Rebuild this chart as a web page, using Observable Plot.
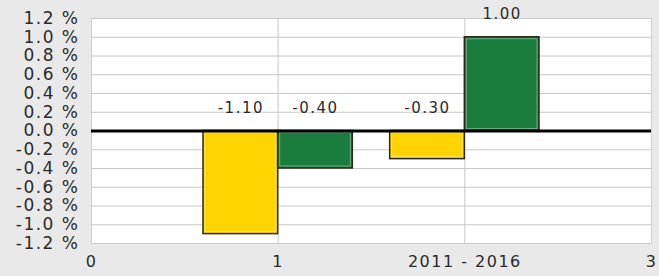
<!DOCTYPE html>
<html><head><meta charset="utf-8">
<script src="https://cdn.jsdelivr.net/npm/d3@7"></script>
<script src="https://cdn.jsdelivr.net/npm/@observablehq/plot@0.6"></script>
<style>
html,body{margin:0;padding:0;background:#e9e9e9;}
</style>
</head><body>
<div id="chart"></div>
<script>
const groupPositions = [1, 2];
const seriesNames = ["A", "B"];
const seriesColors = ["#fdd300", "#1b7d3d"];
const seriesValues = [[-1.10, -0.40], [-0.30, 1.00]]; // [group][series]
const xTickValues = [0, 1, 2, 3];
const xTickLabels = ["0", "1", "2011 - 2016", "3"];
const yTicks = [-1.2, -1.0, -0.8, -0.6, -0.4, -0.2, 0, 0.2, 0.4, 0.6, 0.8, 1.0, 1.2];

const barWidth = 0.4;
const rows = [];
groupPositions.forEach((g, gi) => {
  seriesNames.forEach((s, si) => {
    const x1 = g - barWidth + si * barWidth;
    rows.push({x1, x2: x1 + barWidth, xm: x1 + barWidth / 2, v: seriesValues[gi][si], s, color: seriesColors[si]});
  });
});

const chart = Plot.plot({
  width: 659, height: 276,
  marginLeft: 91, marginRight: 8, marginTop: 18, marginBottom: 33,
  style: {background: "#e9e9e9", fontFamily: "DejaVu Sans, Verdana, sans-serif", fontSize: "16px", letterSpacing: "1.5px", color: "#2b2b2b"},
  x: {domain: [0, 3], ticks: xTickValues, tickFormat: (d) => xTickLabels[xTickValues.indexOf(d)], tickSize: 0, tickPadding: 12, label: null},
  y: {domain: [-1.2, 1.2], ticks: yTicks, tickFormat: d => d.toFixed(1) + "\u00a0%", tickSize: 0, tickPadding: 12, label: null},
  marks: [
    Plot.frame({fill: "white", stroke: "#cfcfcf"}),
    Plot.gridY(yTicks, {stroke: "#c8c8c8", strokeOpacity: 1}),
    Plot.gridX([1, 2], {stroke: "#c8c8c8", strokeOpacity: 1}),
    Plot.rect(rows, {x1: "x1", x2: "x2", y1: 0, y2: "v", fill: "color", stroke: "#2a2a1a", strokeWidth: 1.5}),
    Plot.rect(rows, {x1: "x1", x2: "x2", y1: 0, y2: "v", fill: "none", stroke: "white", strokeOpacity: 0.35, strokeWidth: 1, inset: 2}),
    Plot.ruleY([0], {stroke: "black", strokeWidth: 3}),
    Plot.axisY(yTicks, {tickFormat: d => d.toFixed(1) + "\u00a0%", tickSize: 0, tickPadding: 12, fontSize: 17, label: null}),
    Plot.text(rows, {x: "xm", y: d => Math.max(d.v, 0), text: d => d.v.toFixed(2), dy: -23, fill: "#2b2b2b", fontSize: 15})
  ]
});
document.getElementById("chart").append(chart);
</script>
</body></html>
